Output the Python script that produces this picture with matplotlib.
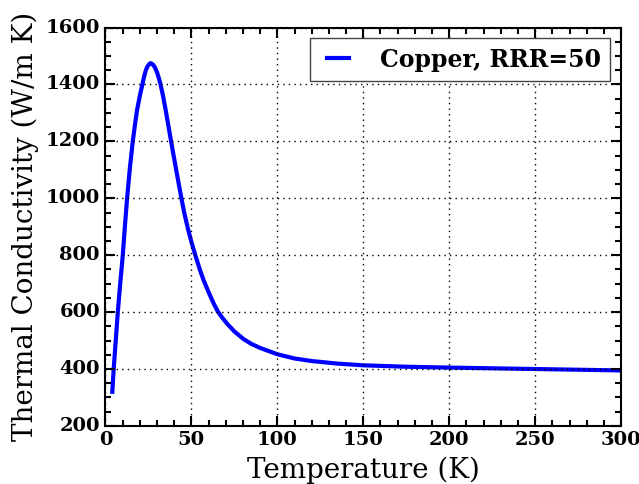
import matplotlib
matplotlib.use("Agg")
import matplotlib.pyplot as plt
from matplotlib.ticker import MultipleLocator

# thermal conductivity of copper (RRR=50)
temperature = [4, 4.8, 6, 7.2, 8.6, 10.1, 11.3, 12.6, 14.2, 15.9, 17.2, 18.4, 20, 21.5,
               22.5, 23.5, 24.5, 25.5, 26.2, 27.5, 28.8, 30, 31, 32, 33.5, 34.9,
               38.2, 41, 44.2, 46, 48, 50, 52.3, 55, 57, 60, 63, 65.3, 68, 70.7,
               75, 80.4, 85, 90, 100, 110, 120, 135, 150, 175, 200, 250, 300]
conductivity = [320, 400, 500, 600, 700, 800, 900, 1000, 1105, 1200, 1260, 1310, 1360,
                1400, 1428, 1450, 1464, 1472, 1475, 1471, 1460, 1443, 1424, 1402,
                1360, 1315, 1200, 1105, 1000, 945, 893, 847, 800, 748, 714, 670,
                630, 603, 580, 560, 532, 505, 488, 474, 452, 437, 428, 419, 413,
                408, 405, 400, 395]

plt.style.use("classic")
plt.rcParams["font.family"] = "DejaVu Serif"

fig = plt.figure(figsize=(6.39, 4.84), dpi=100, facecolor="white")
ax = fig.add_axes([0.165, 0.12, 0.807, 0.823])

ax.plot(temperature, conductivity, color="blue", lw=3, solid_joinstyle="round",
        label="Copper, RRR=50")

ax.set_xlim(0, 300)
ax.set_ylim(200, 1600)
ax.xaxis.set_minor_locator(MultipleLocator(10))
ax.yaxis.set_minor_locator(MultipleLocator(50))
ax.tick_params(which="major", length=7, width=1.5, direction="in", top=True, right=True)
ax.tick_params(which="minor", length=4, width=1.5, direction="in", top=True, right=True)
for lbl in ax.get_xticklabels() + ax.get_yticklabels():
    lbl.set_fontweight("bold")
    lbl.set_fontsize(14)
for s in ax.spines.values():
    s.set_linewidth(1.5)

ax.set_xlabel("Temperature (K)", fontsize=20)
ax.set_ylabel("Thermal Conductivity (W/m K)", fontsize=20)
ax.grid(True, color="k", linestyle=":", linewidth=1)
leg = ax.legend(loc="upper right", prop={"weight": "bold", "size": 17},
                handlelength=1.55, handletextpad=1.0, borderaxespad=0.45)
leg.get_frame().set_edgecolor("#444444")

fig.savefig("out.png", dpi=100, facecolor="white")
